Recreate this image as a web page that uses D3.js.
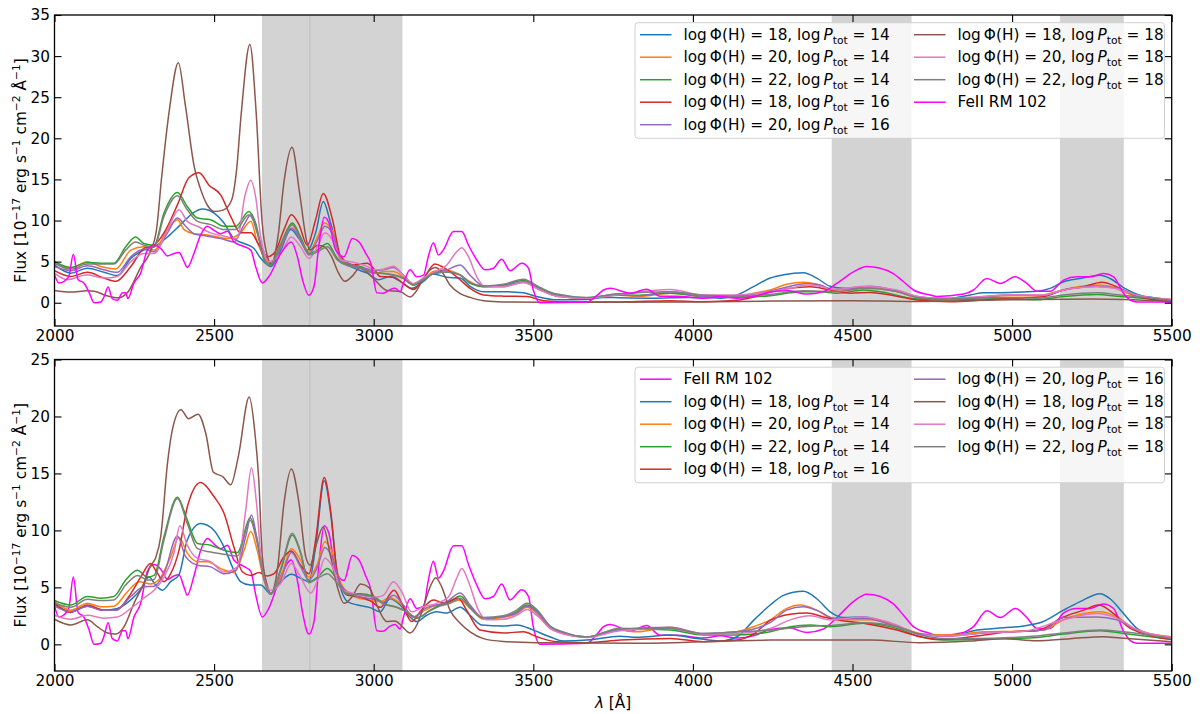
<!DOCTYPE html>
<html>
<head>
<meta charset="utf-8">
<script src="https://cdn.jsdelivr.net/npm/d3@7"></script>
<style>
  body { margin: 0; background: #fff; }
  svg { display: block; }
  text { font-family: "DejaVu Sans", sans-serif; }
</style>
</head>
<body>
<svg id="chart" width="1200" height="714"></svg>
<script>
// ---- data: [wavelength (Å), flux (1e-17 erg/s/cm2/Å)] ----
const xTicks = [2000, 2500, 3000, 3500, 4000, 4500, 5000, 5500];
const topYTicks = [0, 5, 10, 15, 20, 25, 30, 35];
const bottomYTicks = [0, 5, 10, 15, 20, 25];
const bands = [[2650, 3090], [4435, 4685], [5150, 5350]];
const mgLine = 2800;

const modelParams = [[18, 14], [20, 14], [22, 14], [18, 16], [20, 16], [18, 18], [20, 18], [22, 18]];
const modelColors = ["#1f77b4", "#ff7f0e", "#2ca02c", "#d62728", "#9467bd", "#8c564b", "#e377c2", "#7f7f7f"];
const feiiColor = "#ff00ff";

const feii = [[2000,3.4],[2014,2.4],[2030,2.6],[2045,3.2],[2059,5.9],[2074,2.8],[2092,2.4],[2108,1.3],[2124,0.0],[2145,0.1],[2155,0.7],[2168,1.9],[2181,0.5],[2197,0.3],[2213,1.2],[2223,1.2],[2230,0.5],[2249,2.4],[2270,3.6],[2291,6.4],[2312,7.0],[2333,6.6],[2354,5.7],[2374,6.0],[2390,6.1],[2406,5.0],[2416,4.3],[2437,6.0],[2458,8.25],[2479,9.3],[2500,8.8],[2521,8.4],[2542,8.7],[2562,7.4],[2589,6.9],[2615,6.4],[2630,4.4],[2651,2.4],[2672,3.2],[2709,6.0],[2742,7.4],[2761,5.6],[2777,2.8],[2797,0.9],[2813,2.0],[2829,7.2],[2845,10.4],[2860,9.7],[2881,6.4],[2907,5.6],[2933,7.8],[2954,7.4],[2975,6.0],[2991,4.8],[3010,1.2],[3030,1.15],[3051,1.6],[3067,1.75],[3083,1.35],[3093,2.35],[3114,4.0],[3135,3.15],[3156,3.35],[3171,5.6],[3187,7.3],[3203,5.8],[3218,6.4],[3250,8.65],[3276,8.65],[3297,7.0],[3323,5.2],[3349,4.0],[3375,4.2],[3401,5.3],[3427,3.9],[3464,4.8],[3485,4.2],[3500,1.55],[3521,0.0],[3668,0.1],[3700,0.9],[3720,1.55],[3741,1.75],[3803,1.15],[3855,1.65],[3897,0.8],[3950,0.8],[4033,0.55],[4085,0.75],[4138,0.55],[4190,0.75],[4242,1.3],[4300,1.45],[4357,1.05],[4409,1.35],[4451,2.35],[4503,3.75],[4545,4.4],[4587,4.2],[4628,3.55],[4660,2.55],[4691,1.55],[4743,0.95],[4764,0.75],[4848,1.05],[4879,1.55],[4921,2.95],[4963,2.35],[5010,3.15],[5046,2.35],[5078,1.4],[5119,1.4],[5161,2.75],[5203,3.15],[5245,3.15],[5286,3.55],[5318,3.15],[5349,1.15],[5370,0.33],[5391,0.1],[5500,0.1]];

// top panel models
const top_18_14 = [[2000,4.6],[2051,3.6],[2103,4.2],[2155,3.7],[2197,3.3],[2239,5.4],[2280,6.4],[2312,6.8],[2354,8.0],[2395,9.5],[2437,11.0],[2463,11.4],[2500,10.9],[2531,9.7],[2562,7.8],[2594,7.2],[2625,6.6],[2646,5.4],[2667,4.6],[2677,4.4],[2709,6.4],[2740,8.9],[2766,7.8],[2792,6.4],[2818,8.5],[2842,12.3],[2865,9.7],[2897,5.4],[2939,4.2],[2980,3.6],[3015,2.8],[3051,3.2],[3083,2.6],[3119,1.75],[3156,2.6],[3187,3.5],[3229,3.1],[3271,3.0],[3302,2.0],[3344,1.35],[3406,1.35],[3469,1.2],[3511,0.75],[3574,0.35],[3668,0.4],[3720,0.65],[3772,0.6],[3876,0.55],[3981,0.65],[4033,0.65],[4085,0.55],[4138,0.95],[4190,1.95],[4242,3.0],[4284,3.4],[4346,3.65],[4388,3.0],[4430,2.0],[4472,1.75],[4555,1.85],[4618,1.55],[4681,0.95],[4722,0.55],[4806,0.55],[4869,0.95],[4910,1.2],[4994,1.25],[5078,1.4],[5119,1.75],[5161,2.55],[5213,2.95],[5276,3.35],[5307,2.95],[5349,1.85],[5391,1.05],[5443,0.6],[5500,0.33]];
const top_20_14 = [[2000,5.0],[2051,4.2],[2103,5.0],[2145,4.4],[2192,4.1],[2239,6.4],[2280,6.8],[2312,6.4],[2354,8.9],[2385,10.1],[2406,8.9],[2437,8.4],[2468,8.3],[2500,8.1],[2542,7.8],[2583,8.5],[2615,9.9],[2635,7.4],[2667,5.0],[2677,4.7],[2709,6.8],[2742,9.5],[2771,7.8],[2797,6.2],[2824,8.0],[2845,9.7],[2871,8.7],[2897,5.4],[2939,4.4],[2980,4.0],[3010,3.6],[3030,3.8],[3062,3.8],[3093,3.1],[3124,2.15],[3156,2.85],[3187,3.8],[3218,4.0],[3260,3.6],[3302,2.55],[3344,1.95],[3406,1.95],[3469,2.45],[3521,1.55],[3574,0.8],[3668,0.55],[3762,0.95],[3824,0.75],[3929,1.15],[3981,1.0],[4033,0.65],[4138,0.8],[4190,1.15],[4242,1.55],[4294,2.25],[4346,2.5],[4388,2.25],[4430,1.65],[4482,1.55],[4555,1.95],[4639,1.35],[4702,0.65],[4785,0.4],[4869,0.5],[4973,0.85],[5078,0.85],[5140,1.35],[5182,1.75],[5266,2.15],[5307,2.0],[5349,1.35],[5391,0.75],[5500,0.35]];
const top_22_14 = [[2000,5.0],[2051,4.3],[2103,4.9],[2145,4.8],[2186,4.8],[2223,6.8],[2254,8.0],[2280,7.2],[2312,7.0],[2343,10.9],[2385,13.4],[2416,11.7],[2448,10.3],[2489,10.1],[2531,9.3],[2568,9.3],[2609,11.1],[2630,9.7],[2656,5.4],[2675,4.6],[2709,7.2],[2745,9.7],[2771,8.0],[2797,6.0],[2824,6.4],[2855,7.2],[2886,5.4],[2918,4.6],[2959,4.4],[3001,3.6],[3020,3.6],[3062,3.35],[3093,2.95],[3124,2.15],[3156,2.75],[3187,3.55],[3229,3.75],[3271,3.35],[3302,2.35],[3344,1.95],[3406,2.15],[3469,2.7],[3521,1.75],[3574,0.95],[3668,0.55],[3762,0.95],[3824,0.9],[3929,1.15],[4033,0.75],[4138,0.65],[4242,0.85],[4305,1.2],[4346,1.35],[4399,1.35],[4451,1.15],[4534,1.55],[4608,1.2],[4681,0.55],[4764,0.33],[4869,0.4],[4973,0.55],[5078,0.35],[5161,0.75],[5266,1.0],[5339,0.75],[5500,0.25]];
const top_18_16 = [[2000,3.9],[2051,3.2],[2103,3.7],[2155,3.0],[2192,2.6],[2239,4.4],[2280,6.6],[2312,7.0],[2343,8.5],[2385,11.9],[2421,15.2],[2453,15.8],[2484,14.3],[2521,13.1],[2552,10.5],[2583,8.5],[2615,8.5],[2641,7.0],[2667,5.6],[2688,6.0],[2719,8.9],[2742,10.7],[2766,9.5],[2792,7.0],[2818,10.1],[2842,13.3],[2871,10.1],[2897,5.6],[2939,4.6],[2980,4.8],[3001,4.1],[3020,3.2],[3062,3.1],[3093,2.35],[3124,1.6],[3156,2.95],[3192,4.7],[3218,4.3],[3260,3.15],[3302,1.75],[3344,0.95],[3406,0.8],[3480,0.75],[3532,0.25],[3615,0.1],[3772,0.1],[3929,0.25],[4033,0.12],[4138,0.3],[4190,0.7],[4242,1.3],[4326,1.85],[4367,1.95],[4430,1.55],[4493,1.15],[4555,1.25],[4639,0.8],[4702,0.33],[4806,0.13],[4910,0.33],[5015,0.55],[5098,0.73],[5161,1.55],[5224,1.95],[5281,2.5],[5339,1.75],[5391,0.8],[5500,0.12]];
const top_20_16 = [[2000,4.4],[2051,3.9],[2103,4.5],[2155,4.0],[2197,3.7],[2239,5.6],[2280,6.5],[2312,6.2],[2354,8.5],[2385,10.3],[2411,9.3],[2437,8.4],[2479,8.1],[2521,7.8],[2562,7.4],[2594,9.5],[2615,10.7],[2635,8.5],[2662,5.6],[2677,4.8],[2709,6.6],[2742,9.1],[2771,7.6],[2797,5.9],[2824,7.6],[2847,9.3],[2871,8.4],[2897,5.4],[2939,4.5],[2980,4.1],[3001,3.9],[3030,4.0],[3062,4.3],[3093,3.35],[3124,2.25],[3161,3.1],[3192,3.65],[3229,4.0],[3271,4.6],[3302,3.35],[3344,2.05],[3406,2.05],[3469,2.55],[3521,1.6],[3574,0.8],[3668,0.55],[3762,1.05],[3824,0.85],[3929,1.35],[4033,0.8],[4138,0.8],[4242,1.4],[4305,2.0],[4357,2.35],[4399,2.15],[4440,1.6],[4503,1.75],[4555,2.0],[4639,1.45],[4702,0.75],[4785,0.45],[4890,0.65],[4994,0.95],[5098,0.9],[5161,1.55],[5266,2.0],[5328,1.75],[5391,0.95],[5500,0.4]];
const top_18_18 = [[2000,1.5],[2051,1.3],[2103,1.45],[2125,1.4],[2160,0.9],[2200,0.6],[2230,1.3],[2270,4.3],[2301,6.3],[2320,9.0],[2335,15.0],[2360,23.5],[2388,29.2],[2410,24.0],[2438,16.5],[2456,14.0],[2480,11.8],[2500,11.1],[2530,11.3],[2555,12.5],[2570,16.0],[2585,23.0],[2612,31.4],[2632,23.0],[2650,10.0],[2668,5.5],[2680,4.7],[2700,8.0],[2720,15.0],[2744,18.9],[2768,13.3],[2790,7.5],[2800,6.4],[2825,7.0],[2846,6.8],[2868,5.6],[2890,3.6],[2910,2.6],[2932,3.2],[2956,4.2],[2982,3.6],[3003,2.8],[3041,1.5],[3083,1.35],[3114,0.7],[3135,1.5],[3156,3.0],[3192,4.3],[3213,3.8],[3239,2.15],[3271,1.1],[3302,0.65],[3344,0.25],[3406,0.1],[3600,0.05],[4000,0.1],[4250,0.2],[4500,0.25],[4700,0.15],[5000,0.35],[5250,0.45],[5350,0.4],[5500,0.15]];
const top_20_18 = [[2000,3.6],[2040,2.8],[2103,3.4],[2155,3.0],[2197,3.2],[2239,5.0],[2280,6.0],[2312,6.0],[2354,8.9],[2390,11.3],[2416,9.9],[2448,9.3],[2489,8.5],[2531,8.1],[2573,7.8],[2596,12.9],[2615,14.9],[2630,12.9],[2646,8.0],[2672,5.0],[2709,6.0],[2742,8.0],[2771,6.8],[2797,5.4],[2824,6.8],[2847,8.5],[2871,7.6],[2897,5.2],[2939,4.9],[2980,4.4],[3001,4.0],[3020,4.0],[3062,4.45],[3093,3.35],[3124,2.35],[3161,3.15],[3192,3.75],[3229,4.6],[3260,6.2],[3276,6.7],[3297,5.6],[3323,3.15],[3349,1.95],[3406,1.95],[3469,2.45],[3521,1.55],[3574,0.8],[3668,0.55],[3762,0.95],[3929,1.6],[4033,0.95],[4138,0.95],[4242,1.35],[4305,1.75],[4357,2.15],[4399,2.0],[4440,1.6],[4534,2.0],[4639,1.55],[4702,0.8],[4785,0.5],[4890,0.73],[4994,0.95],[5098,0.95],[5161,1.55],[5266,1.95],[5328,1.7],[5391,0.9],[5500,0.4]];
const top_22_18 = [[2000,4.8],[2051,4.1],[2103,4.7],[2145,4.7],[2186,4.7],[2223,6.4],[2254,7.4],[2280,7.0],[2312,6.8],[2343,10.5],[2385,13.0],[2416,11.3],[2448,9.9],[2489,9.5],[2531,8.9],[2568,8.9],[2609,10.7],[2630,9.3],[2656,5.3],[2675,4.5],[2709,7.0],[2745,9.5],[2771,7.8],[2797,5.8],[2824,6.2],[2855,6.8],[2886,5.2],[2918,4.5],[2959,4.2],[3001,3.6],[3020,3.6],[3062,3.4],[3093,3.0],[3124,2.2],[3156,2.8],[3187,3.55],[3229,3.75],[3271,3.4],[3302,2.45],[3344,2.05],[3406,2.25],[3469,2.85],[3521,1.85],[3574,1.05],[3668,0.65],[3762,1.05],[3929,1.35],[4033,0.9],[4138,0.8],[4242,1.0],[4346,1.45],[4451,1.35],[4534,1.75],[4639,1.35],[4702,0.65],[4785,0.45],[4973,0.65],[5078,0.55],[5161,0.95],[5266,1.2],[5339,0.95],[5500,0.3]];

// bottom panel models
const bot_18_14 = [[2000,3.6],[2051,2.85],[2103,3.35],[2155,3.0],[2197,3.15],[2239,3.9],[2270,4.8],[2296,5.9],[2317,5.2],[2338,4.75],[2364,5.5],[2390,6.1],[2416,9.15],[2458,10.6],[2500,10.0],[2531,8.55],[2562,6.5],[2583,5.5],[2613,5.2],[2646,5.2],[2677,4.45],[2709,5.5],[2742,6.15],[2771,5.8],[2797,5.5],[2818,8.55],[2845,14.35],[2865,11.5],[2886,6.2],[2918,3.75],[2949,3.45],[2991,3.2],[3020,2.85],[3051,4.0],[3083,3.45],[3114,2.4],[3135,2.0],[3166,2.55],[3197,2.85],[3229,2.75],[3271,3.25],[3302,2.55],[3338,1.7],[3406,1.6],[3448,1.7],[3500,1.25],[3553,0.65],[3594,0.3],[3668,0.38],[3772,0.72],[3824,0.62],[3929,0.82],[4012,0.52],[4085,0.3],[4138,0.67],[4190,2.1],[4242,3.45],[4284,4.3],[4346,4.65],[4388,4.0],[4430,2.85],[4472,2.35],[4534,2.4],[4597,2.0],[4660,1.4],[4722,0.82],[4806,0.73],[4890,1.25],[4973,1.45],[5036,1.6],[5098,2.0],[5161,3.0],[5213,3.75],[5276,4.45],[5307,4.0],[5349,2.7],[5391,1.4],[5443,0.82],[5500,0.52]];
const bot_20_14 = [[2000,3.75],[2051,3.0],[2103,3.6],[2145,3.3],[2186,3.35],[2228,4.6],[2265,5.5],[2301,5.3],[2333,5.9],[2364,7.7],[2390,9.4],[2416,8.0],[2448,7.25],[2479,7.25],[2521,6.65],[2562,6.3],[2594,8.25],[2615,9.9],[2635,8.25],[2656,5.65],[2677,4.45],[2709,5.9],[2742,8.4],[2771,7.4],[2797,5.9],[2824,7.1],[2847,9.0],[2871,8.0],[2897,5.35],[2939,4.2],[2980,3.9],[3020,3.75],[3051,4.1],[3083,3.6],[3124,2.4],[3161,3.0],[3197,3.45],[3229,3.55],[3271,3.9],[3302,3.15],[3344,2.2],[3406,2.35],[3448,2.7],[3480,3.25],[3511,2.7],[3553,1.4],[3594,0.95],[3668,0.65],[3772,1.25],[3824,1.1],[3929,1.5],[4012,0.9],[4085,0.95],[4138,1.1],[4190,1.55],[4242,2.15],[4294,3.15],[4336,3.45],[4388,3.0],[4430,2.35],[4482,2.15],[4555,2.15],[4660,1.4],[4722,0.9],[4806,0.82],[4910,1.1],[5015,1.15],[5098,1.25],[5161,2.15],[5276,2.85],[5328,2.4],[5391,1.25],[5500,0.67]];
const bot_22_14 = [[2000,3.85],[2051,3.45],[2103,4.2],[2145,4.05],[2186,4.2],[2223,5.65],[2260,6.5],[2291,5.9],[2312,6.05],[2343,9.45],[2385,12.9],[2416,10.9],[2448,8.85],[2489,8.7],[2531,8.25],[2573,8.05],[2613,11.1],[2633,9.45],[2656,5.9],[2677,4.4],[2709,6.5],[2745,9.6],[2771,8.0],[2797,5.5],[2824,5.9],[2855,6.65],[2886,5.65],[2918,4.45],[2959,4.45],[3001,4.2],[3030,3.6],[3072,3.25],[3104,2.85],[3135,2.3],[3177,3.0],[3208,3.45],[3239,3.75],[3271,4.25],[3302,3.3],[3344,2.3],[3406,2.45],[3448,2.85],[3480,3.45],[3511,2.95],[3553,1.55],[3594,1.0],[3668,0.65],[3772,1.4],[3929,1.25],[4033,0.82],[4138,0.82],[4242,1.1],[4305,1.55],[4367,1.7],[4430,1.55],[4534,1.85],[4639,1.4],[4712,0.67],[4785,0.38],[4890,0.43],[4994,0.52],[5078,0.6],[5161,0.9],[5276,1.2],[5349,0.95],[5500,0.43]];
const bot_18_16 = [[2000,3.55],[2051,2.8],[2103,3.45],[2155,3.0],[2192,3.0],[2239,4.45],[2270,5.9],[2301,7.1],[2317,6.5],[2343,5.5],[2364,6.2],[2390,8.25],[2416,12.05],[2458,14.2],[2500,12.95],[2531,11.5],[2562,8.55],[2589,6.35],[2615,6.05],[2641,6.3],[2667,6.0],[2688,6.2],[2719,7.7],[2742,8.2],[2771,6.95],[2797,6.2],[2818,9.15],[2845,14.65],[2865,11.75],[2886,6.2],[2918,4.3],[2949,4.2],[2991,3.8],[3020,3.25],[3064,4.75],[3088,3.6],[3119,2.0],[3145,2.85],[3187,3.9],[3218,3.65],[3265,4.05],[3291,3.0],[3333,1.25],[3406,1.0],[3469,1.1],[3511,0.67],[3574,0.23],[3668,0.15],[3772,0.38],[3929,0.52],[4033,0.23],[4138,0.38],[4190,0.9],[4242,2.1],[4305,2.65],[4357,2.75],[4409,2.4],[4451,2.15],[4534,1.85],[4639,1.25],[4712,0.67],[4785,0.43],[4890,0.73],[4994,1.1],[5078,1.2],[5161,2.4],[5224,3.0],[5271,3.45],[5318,2.7],[5370,1.4],[5500,0.43]];
const bot_20_16 = [[2000,3.35],[2051,2.85],[2103,3.35],[2145,3.0],[2192,3.0],[2239,4.2],[2280,5.05],[2312,5.1],[2343,6.2],[2385,9.5],[2411,7.7],[2448,6.95],[2489,6.8],[2531,6.2],[2568,6.5],[2599,9.45],[2617,11.35],[2635,9.15],[2662,5.65],[2677,4.45],[2709,5.65],[2742,8.05],[2771,6.8],[2797,5.65],[2824,6.8],[2847,8.5],[2871,7.55],[2897,5.2],[2939,4.3],[2980,4.05],[3010,3.9],[3030,3.7],[3062,4.3],[3093,3.45],[3124,2.4],[3161,3.15],[3197,3.45],[3229,3.75],[3271,4.5],[3302,3.45],[3344,2.3],[3406,2.45],[3448,2.75],[3480,3.35],[3511,2.85],[3553,1.5],[3594,0.95],[3668,0.65],[3772,1.3],[3929,1.5],[4033,0.95],[4138,1.1],[4242,1.9],[4294,3.0],[4346,3.3],[4399,2.85],[4440,2.3],[4534,2.3],[4639,1.55],[4712,0.9],[4806,0.73],[4910,1.0],[5036,1.15],[5098,1.25],[5161,2.35],[5266,2.4],[5328,2.15],[5391,1.25],[5500,0.6]];
const bot_18_18 = [[2000,2.2],[2051,1.7],[2103,2.15],[2134,1.55],[2166,1.0],[2192,0.9],[2218,1.55],[2249,3.6],[2280,5.35],[2301,6.9],[2317,7.6],[2333,9.5],[2354,15.9],[2369,18.8],[2396,20.6],[2420,19.8],[2450,20.2],[2474,18.5],[2498,15.1],[2528,14.7],[2552,14.0],[2576,16.5],[2610,21.7],[2627,18.8],[2640,14.4],[2651,7.7],[2667,5.05],[2677,4.45],[2698,6.5],[2719,12.4],[2742,15.4],[2766,12.4],[2787,7.7],[2801,6.95],[2818,8.55],[2842,10.3],[2865,7.7],[2886,5.05],[2907,3.6],[2933,4.2],[2959,5.3],[2985,5.0],[3012,3.3],[3030,2.3],[3041,2.0],[3067,2.05],[3088,1.6],[3114,1.0],[3135,1.7],[3156,3.3],[3177,5.05],[3194,5.85],[3213,5.05],[3239,3.0],[3271,1.85],[3302,1.1],[3344,0.5],[3406,0.25],[3511,0.15],[3824,0.1],[4242,0.37],[4388,0.37],[4555,0.37],[4712,0.15],[4869,0.3],[4973,0.5],[5078,0.32],[5182,0.5],[5286,0.67],[5339,0.55],[5500,0.23]];
const bot_20_18 = [[2000,2.55],[2051,2.2],[2103,2.55],[2155,2.3],[2197,2.4],[2239,3.15],[2280,4.05],[2312,4.75],[2343,5.9],[2374,8.0],[2393,10.4],[2416,8.7],[2448,7.55],[2489,7.25],[2531,6.35],[2573,6.8],[2599,11.75],[2617,15.5],[2633,12.35],[2651,6.5],[2677,4.75],[2709,5.35],[2742,7.1],[2771,5.9],[2803,4.5],[2824,5.65],[2847,7.55],[2871,6.8],[2897,4.9],[2939,4.45],[2980,4.2],[3010,4.15],[3030,4.3],[3062,5.5],[3088,4.6],[3119,2.85],[3156,3.3],[3197,3.6],[3234,4.15],[3260,5.8],[3276,6.65],[3297,5.5],[3328,3.0],[3354,2.15],[3406,2.2],[3448,2.55],[3480,3.05],[3511,2.55],[3553,1.4],[3594,0.9],[3668,0.6],[3772,1.2],[3929,1.4],[4033,0.9],[4138,0.95],[4242,1.4],[4305,2.15],[4367,2.5],[4430,2.15],[4534,2.4],[4639,1.7],[4712,0.82],[4806,0.73],[4910,1.0],[5036,1.15],[5161,2.15],[5266,2.7],[5328,2.3],[5391,1.3],[5500,0.6]];
const bot_22_18 = [[2000,3.65],[2051,3.25],[2103,3.95],[2145,3.85],[2186,3.9],[2223,5.2],[2260,6.05],[2291,5.65],[2312,5.7],[2343,9.15],[2385,12.8],[2416,10.6],[2448,8.4],[2489,8.1],[2531,7.9],[2573,7.75],[2613,10.9],[2633,9.15],[2656,5.8],[2677,4.4],[2709,6.65],[2745,9.75],[2771,8.1],[2797,5.4],[2824,5.8],[2855,6.2],[2886,5.35],[2918,4.4],[2959,4.35],[3001,4.1],[3030,3.55],[3072,3.25],[3104,2.85],[3135,2.35],[3177,2.95],[3208,3.35],[3239,3.6],[3271,4.05],[3302,3.2],[3344,2.35],[3406,2.5],[3448,3.0],[3480,3.6],[3511,3.05],[3553,1.6],[3594,1.08],[3668,0.65],[3772,1.4],[3929,1.4],[4033,0.95],[4138,1.1],[4242,1.25],[4346,1.55],[4451,1.7],[4534,1.9],[4639,1.55],[4712,0.85],[4785,0.52],[4890,0.52],[4994,0.6],[5078,0.73],[5161,1.0],[5276,1.25],[5349,1.1],[5500,0.5]];

const topModels = [top_18_14, top_20_14, top_22_14, top_18_16, top_20_16, top_18_18, top_20_18, top_22_18];
const bottomModels = [bot_18_14, bot_20_14, bot_22_14, bot_18_16, bot_20_16, bot_18_18, bot_20_18, bot_22_18];

// ---- layout ----
const svg = d3.select("#chart");
const plotLeft = 54.5, plotRight = 1171.7;
const fontSize = 15.3;

const x = d3.scaleLinear().domain([2000, 5500]).range([plotLeft, plotRight]);

const modelSeries = (data) => data.map((d, i) => ({
    kind: "model", data: d, color: modelColors[i], phi: modelParams[i][0], ptot: modelParams[i][1]
}));
const feiiSeries = {kind: "feii", data: feii, color: feiiColor};

const panels = [
    {id: "top", top: 15, bottom: 326, yDomain: [-2.83, 35], yTicks: topYTicks,
     series: [...modelSeries(topModels), feiiSeries]},
    {id: "bot", top: 359.5, bottom: 671, yDomain: [-2.34, 25], yTicks: bottomYTicks,
     series: [feiiSeries, ...modelSeries(bottomModels)]}
];

function addLabel(sel, s) {
    // mathtext-like label: log Φ(H) = 18, log P_tot = 14
    if (s.kind === "feii") { sel.text("FeII RM 102"); return; }
    sel.append("tspan").text(`log\u2009Φ(H) = ${s.phi}, log\u2009`);
    sel.append("tspan").attr("font-style", "italic").text("P");
    sel.append("tspan").attr("font-size", fontSize * 0.7).attr("dy", 3.6).text("tot");
    sel.append("tspan").attr("dy", -3.6).text(` = ${s.ptot}`);
}

panels.forEach(p => {
    const y = d3.scaleLinear().domain(p.yDomain).range([p.bottom, p.top]);
    const g = svg.append("g");
    const h = p.bottom - p.top;

    // shaded windows
    g.selectAll("rect.band").data(bands).join("rect")
        .attr("x", d => x(d[0])).attr("width", d => x(d[1]) - x(d[0]))
        .attr("y", p.top).attr("height", h)
        .attr("fill", "#d3d3d3");
    g.append("line")
        .attr("x1", x(mgLine)).attr("x2", x(mgLine))
        .attr("y1", p.top).attr("y2", p.bottom)
        .attr("stroke", "#bdbdbd").attr("stroke-width", 1);

    // clip for curves
    svg.append("clipPath").attr("id", "clip-" + p.id)
        .append("rect").attr("x", plotLeft).attr("y", p.top)
        .attr("width", plotRight - plotLeft).attr("height", h);

    const line = d3.line()
        .x(d => x(d[0])).y(d => y(d[1]))
        .curve(d3.curveMonotoneX);

    g.append("g").attr("clip-path", `url(#clip-${p.id})`)
        .selectAll("path").data(p.series).join("path")
        .attr("d", d => line(d.data))
        .attr("fill", "none")
        .attr("stroke", d => d.color)
        .attr("stroke-width", 1.5)
        .attr("stroke-linejoin", "round");

    // axes: ticks inward on all four sides
    const axB = g.append("g").attr("transform", `translate(0,${p.bottom})`)
        .call(d3.axisBottom(x).tickValues(xTicks).tickFormat(d3.format("d")).tickSize(-7).tickPadding(4.6));
    const axT = g.append("g").attr("transform", `translate(0,${p.top})`)
        .call(d3.axisTop(x).tickValues(xTicks).tickFormat("").tickSize(-7));
    const axL = g.append("g").attr("transform", `translate(${plotLeft},0)`)
        .call(d3.axisLeft(y).tickValues(p.yTicks).tickFormat(d3.format("d")).tickSize(-7).tickPadding(4.5));
    const axR = g.append("g").attr("transform", `translate(${plotRight},0)`)
        .call(d3.axisRight(y).tickValues(p.yTicks).tickFormat("").tickSize(-7));
    [axB, axT, axL, axR].forEach(a => {
        a.select(".domain").remove();
        a.selectAll(".tick line").attr("stroke", "#000").attr("stroke-width", 1.1);
        a.selectAll("text").attr("font-size", fontSize).attr("fill", "#000")
            .attr("font-family", "'DejaVu Sans', sans-serif");
    });

    g.append("rect")
        .attr("x", plotLeft).attr("y", p.top)
        .attr("width", plotRight - plotLeft).attr("height", h)
        .attr("fill", "none").attr("stroke", "#000").attr("stroke-width", 1.3);

    // y label
    const yl = g.append("text")
        .attr("transform", `translate(26,${(p.top + p.bottom) / 2}) rotate(-90)`)
        .attr("text-anchor", "middle").attr("font-size", fontSize);
    yl.append("tspan").text("Flux [10");
    yl.append("tspan").attr("font-size", fontSize * 0.7).attr("dy", -6).text("\u221217");
    yl.append("tspan").attr("dy", 6).text(" erg s");
    yl.append("tspan").attr("font-size", fontSize * 0.7).attr("dy", -6).text("\u22121");
    yl.append("tspan").attr("dy", 6).text(" cm");
    yl.append("tspan").attr("font-size", fontSize * 0.7).attr("dy", -6).text("\u22122");
    yl.append("tspan").attr("dy", 6).text(" Å");
    yl.append("tspan").attr("font-size", fontSize * 0.7).attr("dy", -6).text("\u22121");
    yl.append("tspan").attr("dy", 6).text("]");

    // legend (2 columns, filled column-wise, 5 rows)
    const legX = 635, legW = 529.5, legTop = p.top + 7.7, legH = 115.6;
    const lg = g.append("g");
    lg.append("rect")
        .attr("x", legX).attr("y", legTop).attr("width", legW).attr("height", legH)
        .attr("rx", 3).attr("fill", "#fff").attr("fill-opacity", 0.8)
        .attr("stroke", "#d0d0d0").attr("stroke-width", 1);
    const colX = [640, 914];
    p.series.forEach((s, i) => {
        const col = Math.floor(i / 5), row = i % 5;
        const cy = p.top + 19.7 + row * 22.5;
        const hx = colX[col];
        lg.append("line").attr("x1", hx).attr("x2", hx + 31.5).attr("y1", cy).attr("y2", cy)
            .attr("stroke", s.color).attr("stroke-width", 1.5);
        const t = lg.append("text").attr("x", hx + 43.5).attr("y", cy + 5.2).attr("font-size", fontSize);
        addLabel(t, s);
    });
});

// x label
const xl = svg.append("text")
    .attr("x", (plotLeft + plotRight) / 2).attr("y", 708)
    .attr("text-anchor", "middle").attr("font-size", fontSize);
xl.append("tspan").attr("font-style", "italic").text("λ");
xl.append("tspan").text(" [Å]");
</script>
</body>
</html>
